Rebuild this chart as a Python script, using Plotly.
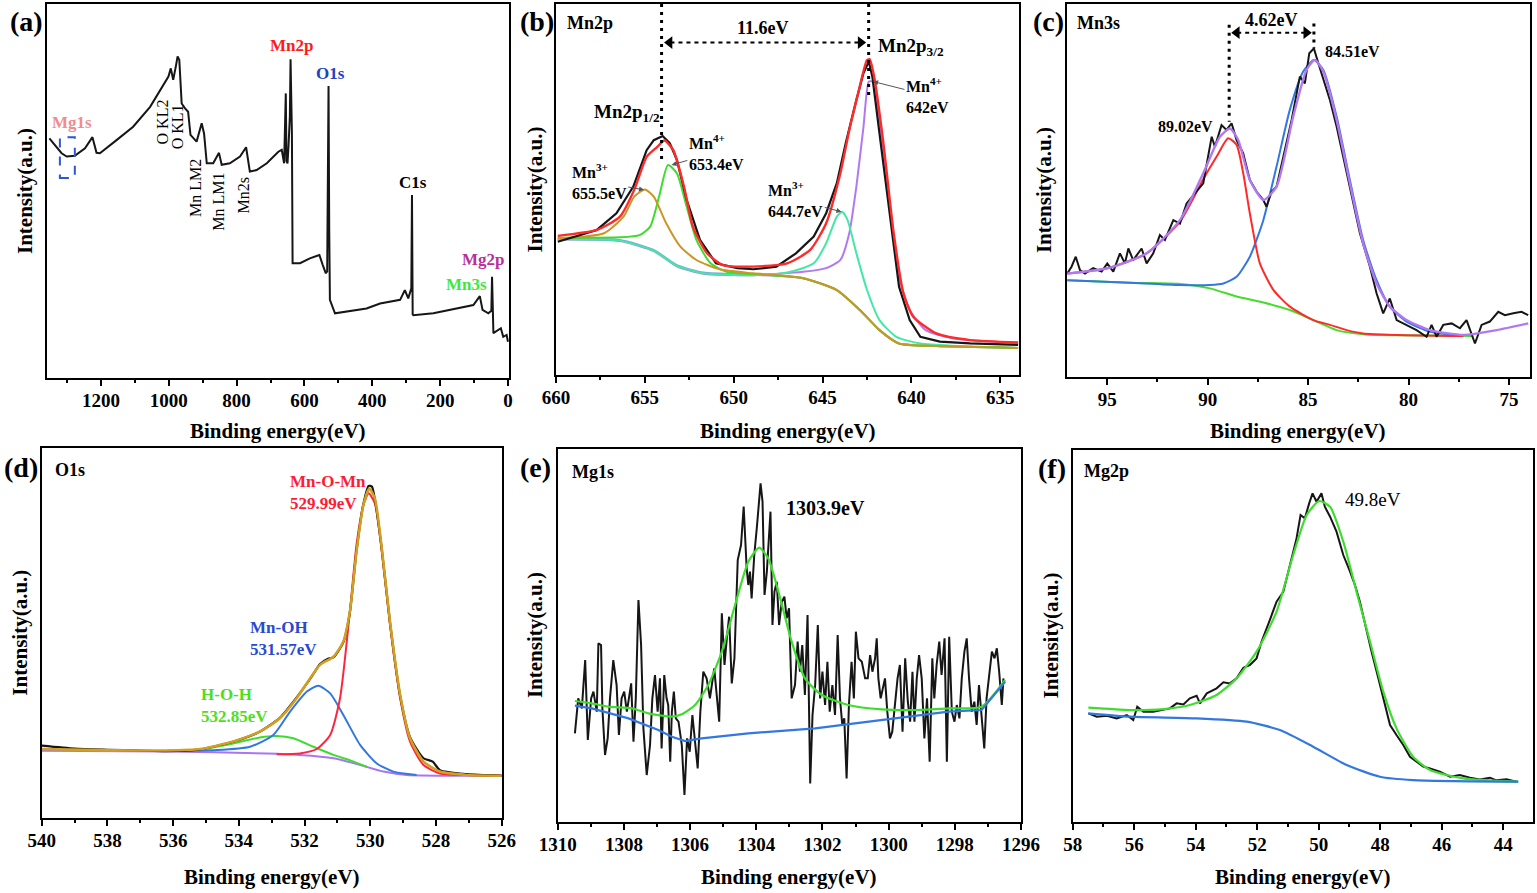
import plotly.graph_objects as go

W, H = 1537, 893
SERIF = "Liberation Serif"

# ---------------- (a) survey -----------------
survey = [(1352, 64.1), (1316, 60.1), (1301, 59.2), (1277, 59.4), (1247, 61.4), (1225, 64.4), (1213, 60.2),
          (1203, 60.1), (1154, 63.6), (1105, 67.2), (1055, 72.5), (1016, 78.3), (1001, 80.6), (994, 82.8),
          (987, 79.7), (979, 83.4), (974, 86.0), (969, 85.1), (962, 73.4), (952, 72.1), (943, 71.2),
          (936, 65.0), (918, 63.2), (903, 68.1), (896, 65.4), (888, 57.4), (869, 57.4), (852, 60.2),
          (844, 57.0), (820, 57.4), (790, 59.2), (772, 61.7), (761, 55.2), (741, 55.6), (711, 57.4),
          (677, 60.5), (667, 61.0), (660, 57.4), (657, 66.0), (655, 76.1), (653, 58.0), (650, 57.4),
          (647, 62.0), (645, 65.4), (643, 70.0), (641, 85.2), (639, 70.0), (637, 65.4), (635, 30.7),
          (613, 30.7), (584, 32.0), (556, 32.9), (546, 30.2), (537, 28.0), (533, 28.5), (530, 60.0),
          (529, 78.1), (527, 40.0), (525, 20.9), (510, 17.3), (417, 18.6), (377, 19.9), (318, 20.9),
          (304, 23.5), (294, 21.3), (285, 24.0), (283, 48.9), (281, 17.0), (279, 16.8), (220, 17.3),
          (102, 19.5), (83, 21.9), (75, 18.2), (58, 17.3), (49, 18.0), (47, 27.1), (45, 15.0), (43, 12.0),
          (21, 13.3), (14, 11.0), (4, 11.5), (0, 9.7)]

# ---------------- (b) Mn2p -----------------
mn2p_raw = [(659.9, 35.9), (657.7, 39.1), (656.6, 43.6), (655.65, 50.8), (654.9, 60.6), (654.5, 63.3),
            (654.0, 64.4), (653.6, 62.5), (653.2, 58.0), (652.65, 47.2), (651.9, 36.4), (651.0, 30.1),
            (649.8, 28.8), (648.9, 28.5), (647.6, 29.2), (646.5, 32.8), (645.5, 37.3), (644.8, 43.6),
            (644.2, 51.7), (643.7, 62.5), (643.1, 74.1), (642.7, 81.4), (642.4, 84.5), (642.2, 80.4),
            (641.8, 65.1), (641.2, 42.7), (640.7, 23.8), (640.1, 14.8), (639.5, 10.3), (638.4, 9.0),
            (636.7, 8.5), (634.0, 8.1)]
mn2p_env = [(659.9, 37.5), (657.7, 39.1), (656.4, 42.7), (655.6, 49.9), (654.9, 58.8), (654.3, 61.5),
            (653.9, 63.2), (653.4, 60.6), (652.8, 50.8), (652.3, 40.0), (651.5, 32.8), (650.6, 29.6),
            (648.9, 29.2), (647.0, 30.1), (645.7, 33.7), (644.8, 40.9), (644.0, 54.4), (643.5, 66.0),
            (643.0, 75.9), (642.5, 84.9), (642.35, 85.1), (642.1, 80.4), (641.6, 63.3), (641.0, 38.2),
            (640.45, 22.0), (639.9, 15.7), (638.6, 11.2), (636.7, 9.4), (634.0, 8.8)]
mn2p_bg = [(659.9, 36.8), (656.4, 36.4), (654.5, 33.7), (653.2, 29.6), (651.7, 27.6), (648.9, 27.0),
           (646.1, 26.1), (644.2, 22.9), (642.9, 17.5), (641.8, 12.1), (640.7, 8.5), (638.6, 7.8), (634.0, 7.3)]
mn3_655 = [(659.9, 36.8), (657.3, 38.2), (656.2, 42.7), (655.6, 48.1), (655.0, 50.0), (654.5, 48.1),
           (653.8, 40.9), (653.0, 34.6), (652.1, 31.0), (650.8, 28.5), (648.9, 27.4), (646.1, 26.1),
           (644.2, 22.9), (642.9, 17.5), (641.8, 12.1), (640.7, 8.5), (638.6, 7.8), (634.0, 7.3)]
mn4_653 = [(659.9, 37.0), (656.4, 37.1), (655.3, 37.7), (654.7, 40.0), (654.2, 48.1), (653.7, 56.6),
           (653.2, 54.4), (652.65, 45.4), (652.1, 36.4), (651.3, 30.1), (650.4, 27.8), (648.9, 27.2),
           (646.1, 26.1), (644.2, 22.9), (642.9, 17.5), (641.8, 12.1), (640.7, 8.5), (638.6, 7.8), (634.0, 7.3)]
mn3_644 = [(659.9, 36.6), (656.4, 36.2), (654.5, 33.5), (653.2, 29.4), (651.7, 27.4), (648.9, 26.9),
           (647.0, 27.6), (645.5, 30.1), (644.8, 35.5), (644.2, 42.7), (643.9, 44.0), (643.6, 41.8),
           (643.1, 32.8), (642.5, 22.9), (641.8, 14.8), (640.85, 10.3), (639.5, 8.5), (634.0, 7.3)]
mn4_642 = [(659.9, 36.5), (656.4, 36.1), (654.5, 33.4), (653.2, 29.3), (651.7, 27.3), (648.9, 26.9),
           (646.1, 27.8), (644.8, 28.8), (644.0, 31.0), (643.5, 38.2), (643.1, 50.8), (642.7, 66.9),
           (642.4, 79.1), (642.2, 79.1), (641.8, 68.7), (641.2, 45.4), (640.7, 26.5), (640.1, 17.5),
           (639.2, 12.1), (637.7, 9.9), (634.0, 8.6)]

# ---------------- (c) Mn3s -----------------
mn3s_raw = [(96.99, 27.7), (96.78, 29.5), (96.57, 32.2), (96.36, 28.6), (96.11, 27.7), (95.70, 29.1),
            (95.28, 28.2), (95.0, 30.4), (94.70, 28.2), (94.37, 33.1), (94.12, 30.4), (93.95, 34.4),
            (93.71, 31.3), (93.29, 34.4), (93.04, 30.4), (92.71, 33.1), (92.38, 38.0), (92.13, 36.7),
            (91.71, 42.0), (91.38, 41.1), (91.05, 46.5), (90.63, 49.2), (90.22, 51.9), (89.80, 64.4),
            (89.64, 61.7), (89.31, 67.5), (89.06, 66.2), (88.81, 68.0), (88.56, 63.5), (88.23, 59.9),
            (87.90, 52.8), (87.56, 49.6), (87.23, 47.4), (87.07, 45.6), (86.82, 49.6), (86.57, 51.0),
            (86.24, 59.0), (85.82, 68.9), (85.41, 80.5), (85.16, 78.7), (84.94, 86.8), (84.71, 88.1),
            (84.49, 84.1), (84.24, 79.6), (83.91, 74.2), (83.58, 67.1), (83.25, 59.0), (82.92, 51.0),
            (82.42, 38.5), (81.92, 29.5), (81.59, 22.4), (81.26, 17.0), (80.93, 21.0), (80.59, 15.2),
            (80.10, 13.9), (79.60, 12.5), (79.10, 10.7), (78.85, 13.9), (78.60, 10.7), (78.27, 13.9),
            (77.85, 14.3), (77.44, 13.0), (77.11, 15.2), (76.69, 8.9), (76.36, 13.9), (75.95, 14.8),
            (75.53, 17.4), (75.20, 16.5), (74.78, 17.0), (74.37, 17.4), (74.04, 16.5)]
mn3s_env = [(96.99, 27.7), (95.0, 29.1), (93.04, 33.1), (91.38, 42.0), (90.22, 54.6), (89.39, 64.4),
            (88.89, 66.6), (88.48, 63.5), (87.90, 52.8), (87.23, 47.4), (86.57, 51.0), (85.74, 69.8),
            (85.08, 82.3), (84.66, 85.0), (84.24, 81.8), (83.58, 68.9), (82.92, 51.9), (82.26, 35.8),
            (81.59, 25.0), (80.93, 18.8), (80.10, 15.2), (78.94, 12.5), (77.27, 11.2), (75.61, 12.5),
            (74.04, 14.3)]
mn3s_89 = [(96.99, 27.7), (95.0, 29.1), (93.04, 33.1), (91.38, 41.6), (90.22, 53.0), (89.56, 59.0),
           (88.98, 64.0), (88.56, 62.2), (88.23, 54.6), (87.90, 43.8), (87.40, 30.4), (86.73, 23.3),
           (85.91, 18.8), (84.74, 15.2), (83.91, 13.9), (83.08, 12.5), (82.26, 11.6), (80.59, 11.2),
           (77.27, 10.9)]
mn3s_84 = [(96.99, 25.9), (93.87, 25.2), (91.38, 24.6), (89.89, 24.6), (89.22, 25.0), (88.56, 26.8),
           (87.90, 32.2), (87.23, 42.0), (86.57, 56.4), (85.91, 71.6), (85.25, 81.8), (84.71, 85.0),
           (84.24, 82.3), (83.58, 69.8), (82.92, 52.8), (82.26, 36.7), (81.59, 25.9), (80.93, 18.8),
           (80.10, 14.8), (78.94, 12.1), (77.27, 10.9)]
mn3s_bg = [(96.99, 25.9), (93.87, 25.2), (91.38, 24.9), (89.89, 23.7), (88.56, 21.5), (87.23, 19.9),
           (85.91, 17.9), (84.74, 15.2), (83.58, 12.5), (82.26, 11.4), (80.59, 11.1), (76.77, 10.9)]

# ---------------- (d) O1s -----------------
o1s_raw = [(540.0, 19.6), (539.0, 18.8), (538.0, 18.5), (537.0, 18.3), (536.2, 18.1), (535.2, 18.6),
           (534.2, 20.6), (533.4, 23.2), (532.75, 27.1), (532.24, 32.6), (531.83, 37.6), (531.53, 41.6),
           (531.3, 43.0), (531.12, 43.4), (530.82, 47.5), (530.62, 55.6), (530.42, 72.1), (530.21, 84.8),
           (530.05, 89.7), (529.95, 89.5), (529.86, 86.0), (529.66, 73.4), (529.40, 52.8), (529.09, 33.0),
           (528.79, 21.9), (528.38, 16.2), (528.1, 15.3), (527.88, 13.0), (527.07, 11.9), (526.0, 11.5)]
o1s_env = [(540.0, 18.7), (538.22, 18.4), (536.20, 18.3), (535.18, 18.7), (534.17, 20.7), (533.36, 23.4),
           (532.75, 27.0), (532.24, 32.4), (531.83, 37.8), (531.53, 41.4), (531.12, 43.6), (530.82, 47.7),
           (530.62, 55.8), (530.42, 71.9), (530.21, 84.5), (530.03, 89.0), (529.86, 86.3), (529.66, 73.7),
           (529.40, 53.1), (529.09, 33.3), (528.79, 21.6), (528.38, 15.3), (527.88, 12.6), (527.07, 11.7),
           (526.0, 11.5)]
o1s_mnomn = [(532.85, 17.3), (532.14, 17.5), (531.63, 18.7), (531.22, 22.5), (530.92, 32.4), (530.62, 55.8),
             (530.42, 73.7), (530.21, 84.5), (530.05, 87.7), (529.86, 85.0), (529.66, 72.8), (529.40, 52.2),
             (529.09, 32.4), (528.79, 20.7), (528.38, 14.4), (527.88, 12.1), (527.07, 11.7), (526.0, 11.5)]
o1s_mnoh = [(536.20, 18.2), (534.67, 18.4), (533.66, 19.3), (532.95, 22.5), (532.44, 28.8), (531.93, 34.2),
            (531.58, 35.8), (531.22, 33.7), (530.82, 27.9), (530.31, 19.8), (529.80, 14.8), (529.30, 12.6),
            (528.59, 11.7)]
o1s_hoh = [(535.18, 18.4), (534.17, 20.2), (533.36, 21.8), (532.85, 22.2), (532.34, 21.6), (531.73, 19.3),
           (531.12, 17.1), (530.51, 15.3), (530.11, 13.9)]
o1s_bg = [(540.0, 18.2), (536.2, 18.0), (533.15, 17.5), (532.14, 17.1), (531.12, 16.2), (530.31, 14.4),
          (529.60, 12.6), (528.89, 11.7), (526.0, 11.5)]

# ---------------- (e) Mg1s -----------------
mg1s_raw = [(1309.48, 265), (1309.38, 370), (1309.27, 340), (1309.17, 485), (1309.09, 245), (1308.99, 370),
            (1308.92, 390), (1308.82, 330), (1308.77, 535), (1308.69, 530), (1308.65, 340), (1308.57, 200),
            (1308.49, 250), (1308.42, 370), (1308.32, 485), (1308.22, 410), (1308.15, 260), (1308.07, 370),
            (1307.99, 390), (1307.91, 330), (1307.84, 375), (1307.78, 415), (1307.71, 240), (1307.64, 370),
            (1307.56, 665), (1307.48, 530), (1307.41, 280), (1307.31, 140), (1307.21, 230), (1307.14, 370),
            (1307.06, 440), (1306.98, 330), (1306.91, 430), (1306.86, 220), (1306.78, 440), (1306.71, 370),
            (1306.66, 350), (1306.60, 180), (1306.55, 330), (1306.49, 390), (1306.43, 310), (1306.35, 300),
            (1306.25, 230), (1306.17, 80), (1306.09, 250), (1306.01, 210), (1305.93, 320), (1305.85, 230),
            (1305.77, 160), (1305.69, 330), (1305.60, 450), (1305.50, 430), (1305.40, 370), (1305.27, 460),
            (1305.12, 300), (1305.04, 625), (1304.96, 470), (1304.89, 550), (1304.82, 615), (1304.74, 415),
            (1304.66, 490), (1304.56, 785), (1304.46, 830), (1304.38, 945), (1304.29, 760), (1304.24, 710),
            (1304.19, 750), (1304.14, 670), (1304.06, 800), (1303.98, 885), (1303.87, 1015), (1303.81, 960),
            (1303.75, 680), (1303.68, 750), (1303.61, 880), (1303.57, 930), (1303.51, 590), (1303.45, 690),
            (1303.38, 720), (1303.31, 590), (1303.23, 660), (1303.15, 675), (1303.08, 610), (1303.01, 640),
            (1302.93, 370), (1302.83, 410), (1302.75, 540), (1302.68, 450), (1302.61, 530), (1302.53, 380),
            (1302.45, 620), (1302.37, 115), (1302.30, 320), (1302.22, 410), (1302.14, 590), (1302.07, 370),
            (1302.00, 450), (1301.92, 350), (1301.85, 480), (1301.78, 330), (1301.70, 410), (1301.62, 320),
            (1301.54, 560), (1301.47, 370), (1301.40, 290), (1301.34, 310), (1301.27, 130), (1301.20, 350),
            (1301.12, 480), (1301.05, 370), (1300.99, 570), (1300.91, 490), (1300.81, 480), (1300.71, 430),
            (1300.63, 430), (1300.56, 500), (1300.49, 450), (1300.41, 490), (1300.36, 550), (1300.31, 430),
            (1300.24, 370), (1300.18, 400), (1300.11, 430), (1300.04, 330), (1299.96, 250), (1299.89, 270),
            (1299.81, 350), (1299.73, 430), (1299.66, 470), (1299.58, 270), (1299.50, 490), (1299.42, 360),
            (1299.35, 300), (1299.28, 450), (1299.22, 300), (1299.15, 430), (1299.08, 500), (1299.00, 430),
            (1298.92, 250), (1298.84, 370), (1298.76, 180), (1298.68, 490), (1298.62, 370), (1298.55, 470),
            (1298.47, 540), (1298.40, 440), (1298.31, 550), (1298.24, 180), (1298.17, 555), (1298.09, 330),
            (1298.01, 300), (1297.94, 350), (1297.86, 310), (1297.79, 430), (1297.71, 510), (1297.64, 550),
            (1297.57, 430), (1297.49, 330), (1297.41, 360), (1297.34, 290), (1297.27, 410), (1297.19, 300),
            (1297.11, 220), (1297.04, 370), (1296.97, 440), (1296.88, 510), (1296.80, 490), (1296.73, 520),
            (1296.66, 450), (1296.58, 350), (1296.53, 430)]
mg1s_fit = [(1309.48, 362), (1308.97, 355), (1308.47, 345), (1307.76, 340), (1307.26, 325), (1306.55, 315),
            (1306.25, 322), (1305.85, 350), (1305.45, 410), (1305.04, 510), (1304.64, 650), (1304.24, 780),
            (1303.91, 822), (1303.64, 790), (1303.33, 690), (1302.93, 540), (1302.53, 430), (1302.02, 380),
            (1301.22, 350), (1300.21, 337), (1299.20, 335), (1298.19, 340), (1297.19, 345), (1296.48, 425)]
mg1s_bg = [(1309.48, 348), (1308.97, 340), (1307.86, 310), (1306.96, 275), (1306.55, 255), (1306.15, 242),
           (1305.65, 250), (1304.24, 265), (1302.22, 280), (1300.21, 305), (1298.19, 330), (1297.19, 335),
           (1296.48, 420)]

# ---------------- (f) Mg2p -----------------
mg2p_raw = [(57.49, 325), (57.22, 315), (56.89, 318), (56.57, 310), (56.24, 320), (56.03, 305), (55.90, 345),
            (55.70, 330), (55.38, 330), (55.05, 335), (54.84, 340), (54.62, 355), (54.40, 352), (54.19, 370),
            (53.97, 378), (53.86, 355), (53.64, 385), (53.32, 400), (53.10, 418), (52.89, 415), (52.67, 430),
            (52.45, 462), (52.24, 470), (52.02, 490), (51.86, 540), (51.59, 605), (51.37, 660), (51.15, 690),
            (50.94, 770), (50.72, 850), (50.59, 920), (50.45, 910), (50.31, 955), (50.20, 985), (50.07, 960),
            (49.91, 985), (49.80, 945), (49.63, 915), (49.42, 870), (49.20, 800), (48.98, 750), (48.82, 710),
            (48.66, 660), (48.44, 570), (48.28, 510), (48.06, 430), (47.85, 350), (47.68, 290), (47.47, 260),
            (47.25, 230), (47.03, 195), (46.82, 180), (46.60, 165), (46.38, 160), (46.06, 150), (45.73, 135),
            (45.41, 140), (45.08, 132), (44.76, 127), (44.43, 132), (44.22, 124), (43.89, 127), (43.57, 120)]
mg2p_fit = [(57.49, 342), (56.14, 335), (55.05, 338), (54.19, 350), (53.32, 380), (52.67, 430), (52.02, 510),
            (51.37, 630), (50.83, 800), (50.39, 920), (49.98, 962), (49.63, 945), (49.20, 840), (48.77, 690),
            (48.33, 540), (47.90, 390), (47.47, 280), (46.93, 195), (46.38, 155), (45.30, 130), (43.51, 120)]
mg2p_bg = [(57.49, 325), (56.14, 315), (53.97, 310), (52.34, 300), (51.26, 275), (50.18, 225), (49.09, 170),
           (48.01, 135), (46.93, 125), (43.51, 120)]

# splitting markers (peak positions used for the dashed guides)
mn2p_split = [654.06, 642.41]
mn3s_split = [88.93, 84.71]

BLACK = "#161616"
RED = "#FF2A2A"
PURPLE = "#B278F2"
TEAL = "#44E8A6"
GREEN = "#3EDC2E"
ORANGE = "#CC9524"
BLUE = "#3377E0"

fig = go.Figure()


def add(data, ax, color, width=2.0, spline=True):
    xs = [p[0] for p in data]
    ys = [p[1] for p in data]
    fig.add_trace(go.Scatter(x=xs, y=ys, mode="lines", xaxis="x" + ax, yaxis="y" + ax,
                             line=dict(color=color, width=width, shape="spline" if spline else "linear",
                                       smoothing=0.6),
                             showlegend=False, hoverinfo="skip"))


add(survey, "", BLACK, 2.0, spline=False)

add(mn2p_bg, "2", "#7FA6D8")
add(mn4_642, "2", PURPLE)
add(mn3_644, "2", TEAL)
add(mn4_653, "2", GREEN)
add(mn3_655, "2", ORANGE)
add(mn2p_raw, "2", BLACK, 2.2, spline=False)
add(mn2p_env, "2", RED, 2.4)

add(mn3s_bg, "3", "#46DC2E")
add(mn3s_84, "3", BLUE)
add(mn3s_89, "3", RED)
add(mn3s_raw, "3", BLACK, 2.0, spline=False)
add(mn3s_env, "3", PURPLE, 2.4)

add(o1s_bg, "4", "#A877F0")
add(o1s_hoh, "4", GREEN)
add(o1s_mnoh, "4", BLUE)
add(o1s_mnomn, "4", "#FF2440")
add(o1s_raw, "4", BLACK, 2.2)
add(o1s_env, "4", "#D29F22", 2.6)

add(mg1s_raw, "5", BLACK, 2.0, spline=False)
add(mg1s_fit, "5", GREEN, 2.2)
add(mg1s_bg, "5", BLUE, 2.2, spline=False)

add(mg2p_raw, "6", BLACK, 2.0, spline=False)
add(mg2p_fit, "6", GREEN, 2.2)
add(mg2p_bg, "6", BLUE, 2.2)


def double_arrow(ax, split, y, pad):
    # arrow heads as triangle markers at both ends of the dashed span
    fig.add_trace(go.Scatter(x=[split[0] - pad, split[1] + pad], y=[y, y], mode="markers",
                             xaxis="x" + ax, yaxis="y" + ax,
                             marker=dict(symbol=["triangle-left", "triangle-right"], size=11, color="black"),
                             showlegend=False, hoverinfo="skip"))


double_arrow("2", mn2p_split, 89.6, 0.45)
double_arrow("3", mn3s_split, 92.3, 0.38)

TICKFONT = dict(family=SERIF, size=19, color="black", weight="bold")

panels = {
    "": dict(dx=[47 / W, 509 / W], dy=[1 - 378 / H, 1 - 4 / H], xr=[1359, -3], yr=[0, 100], dt=200, mt=100),
    "2": dict(dx=[556 / W, 1019 / W], dy=[1 - 375 / H, 1 - 4 / H], xr=[660, 633.95], yr=[0, 100], dt=5, mt=2.5),
    "3": dict(dx=[1066.7 / W, 1530 / W], dy=[1 - 376.7 / H, 1 - 4 / H], xr=[97.02, 73.95], yr=[0, 100], dt=5, mt=2.5),
    "4": dict(dx=[41.7 / W, 501.7 / W], dy=[1 - 818.3 / H, 1 - 447.7 / H], xr=[540, 526], yr=[0, 100], dt=2, mt=1),
    "5": dict(dx=[557.7 / W, 1021 / W], dy=[1 - 821.7 / H, 1 - 449 / H], xr=[1310, 1296], yr=[0, 1118], dt=2, mt=1),
    "6": dict(dx=[1072.7 / W, 1532.7 / W], dy=[1 - 821.7 / H, 1 - 449.7 / H], xr=[58, 43.04], yr=[0, 1116], dt=2, mt=1),
}

layout_axes = {}
for k, p in panels.items():
    layout_axes["xaxis" + k] = dict(domain=p["dx"], anchor="y" + k, range=p["xr"], dtick=p["dt"], tick0=0,
                                    showline=True, mirror=True, linecolor="black", linewidth=2,
                                    ticks="outside", ticklen=6, tickwidth=2, tickcolor="black",
                                    minor=dict(dtick=p["mt"], tick0=0, ticks="outside", ticklen=3, tickwidth=2,
                                               tickcolor="black"),
                                    showgrid=False, zeroline=False, tickfont=TICKFONT, fixedrange=True,
                                    automargin=False, ticklabelstandoff=-2)
    layout_axes["yaxis" + k] = dict(domain=p["dy"], anchor="x" + k, range=p["yr"], showline=True, mirror=True,
                                    linecolor="black", linewidth=2, showticklabels=False, ticks="",
                                    showgrid=False, zeroline=False, fixedrange=True, automargin=False)

ann = []


def T(text, x, y, ref="", size=16, color="black", bold=True, xanchor="center", yanchor="middle", angle=0,
      align="center"):
    xr = "paper" if ref == "paper" else "x" + ref
    yr = "paper" if ref == "paper" else "y" + ref
    ann.append(dict(text=text, x=x, y=y, xref=xr, yref=yr, showarrow=False, xanchor=xanchor, yanchor=yanchor,
                    textangle=angle, align=align,
                    font=dict(family=SERIF, size=size, color=color, weight="bold" if bold else "normal")))


def TA(text, hx, hy, tx, ty, ref, size=16):
    # label whose thin pointer runs from the text box to the peak
    ann.append(dict(text=text, x=hx, y=hy, ax=tx, ay=ty, xref="x" + ref, yref="y" + ref, axref="x" + ref,
                    ayref="y" + ref, showarrow=True, arrowhead=2, arrowsize=1.0, arrowwidth=1,
                    arrowcolor="#555555", standoff=0, align="left",
                    font=dict(family=SERIF, size=size, color="black", weight="bold")))


def P(px, py):
    return px / W, 1 - py / H


# panel letters and sub titles
for lab, (px, py) in {"(a)": (26, 21), "(b)": (537, 22), "(c)": (1048, 22), "(d)": (21, 467),
                      "(e)": (535, 467), "(f)": (1052, 468)}.items():
    x, y = P(px, py)
    T(lab, x, y, "paper", size=28)
for lab, (px, py) in {"Mn2p": (590, 23), "Mn3s": (1098, 23), "O1s": (70, 470), "Mg1s": (593, 472),
                      "Mg2p": (1106, 471)}.items():
    x, y = P(px, py)
    T(lab, x, y, "paper", size=18)

# axis titles
for k, p in panels.items():
    cx = (p["dx"][0] + p["dx"][1]) / 2
    top_row = p["dy"][0] > 0.5
    T("Binding energy(eV)", cx, 1 - (431 if top_row else 877) / H, "paper", size=21)
    cy = (p["dy"][0] + p["dy"][1]) / 2
    T("Intensity(a.u.)", p["dx"][0] - 22 / W, cy, "paper", size=21, angle=-90)

# (a) labels
T("Mg1s", 1285, 68.4, "", 17, "#F28C8C")
T("Mn2p", 638, 88.8, "", 17, "#FF1A1A")
T("O1s", 522, 81.3, "", 17, "#2040C8")
T("C1s", 281, 52.2, "", 17)
T("Mg2p", 71, 31.6, "", 17, "#B8309A")
T("Mn3s", 122, 25.1, "", 17, "#3EE83E")
for txt, x, y in [("O KL2", 1018, 68.5), ("O KL1", 974, 67.2), ("Mn LM2", 923, 50.8), ("Mn LM1", 852, 47.1),
                  ("Mn2s", 780, 48.9)]:
    T(txt, x, y, "", 16, bold=False, angle=-90)

shapes = [dict(type="rect", xref="x", yref="y", x0=1321, x1=1277, y0=53.5, y1=64.4,
               line=dict(color="#2F55D4", width=2, dash="dash"))]

# (b) annotations
shapes.append(dict(type="line", xref="x2", yref="y2", x0=mn2p_split[0], x1=mn2p_split[0], y0=100, y1=57,
                   line=dict(color="black", width=3, dash="3px,5px")))
shapes.append(dict(type="line", xref="x2", yref="y2", x0=mn2p_split[1], x1=mn2p_split[1], y0=100, y1=75,
                   line=dict(color="black", width=3, dash="3px,5px")))
shapes.append(dict(type="line", xref="x2", yref="y2", x0=mn2p_split[0] - 0.5, x1=mn2p_split[1] + 0.5,
                   y0=89.6, y1=89.6, line=dict(color="black", width=2, dash="4px,4px")))
T("11.6eV", 648.38, 93.4, "2", 18)
T("Mn2p<sub>3/2</sub>", 641.97, 88.5, "2", 19, xanchor="left")
T("Mn2p<sub>1/2</sub>", 656.03, 70.5, "2", 19)
TA("Mn<sup>4+</sup><br>642eV", 642.16, 79.1, 639.1, 75.4, "2")
TA("Mn<sup>4+</sup><br>653.4eV", 653.50, 56.6, 650.98, 60.1, "2")
TA("Mn<sup>3+</sup><br>655.5eV", 655.05, 49.9, 657.57, 52.1, "2")
TA("Mn<sup>3+</sup><br>644.7eV", 643.94, 44.0, 646.51, 47.2, "2")

# (c) annotations
shapes.append(dict(type="line", xref="x3", yref="y3", x0=mn3s_split[0], x1=mn3s_split[0], y0=94.4, y1=68.4,
                   line=dict(color="black", width=3, dash="3px,5px")))
shapes.append(dict(type="line", xref="x3", yref="y3", x0=mn3s_split[1], x1=mn3s_split[1], y0=94.8, y1=88.1,
                   line=dict(color="black", width=3, dash="3px,5px")))
shapes.append(dict(type="line", xref="x3", yref="y3", x0=mn3s_split[0] - 0.4, x1=mn3s_split[1] + 0.4,
                   y0=92.3, y1=92.3, line=dict(color="black", width=2, dash="4px,4px")))
T("4.62eV", 86.82, 95.7, "3", 18)
T("84.51eV", 84.24, 87.2, "3", 16, xanchor="left")
T("89.02eV", 89.64, 67.1, "3", 16, xanchor="right")

# (d) annotations
T("Mn-O-Mn<br>529.99eV", 532.49, 87.9, "4", 17, "#FF1A33", xanchor="left", align="left")
T("Mn-OH<br>531.57eV", 533.71, 48.5, "4", 17, "#2B48D0", xanchor="left", align="left")
T("H-O-H<br>532.85eV", 535.2, 30.4, "4", 17, "#4CE01C", xanchor="left", align="left")

# (e), (f) annotations
T("1303.9eV", 1301.92, 940, "5", 20)
T("49.8eV", 48.23, 968, "6", 19, bold=False)

fig.update_layout(width=W, height=H, margin=dict(l=0, r=0, t=0, b=0, autoexpand=False), paper_bgcolor="white",
                  plot_bgcolor="white", annotations=ann, shapes=shapes, showlegend=False, **layout_axes)

fig.write_html("out.html", config={"displayModeBar": False, "staticPlot": True},
               post_script="document.body.style.margin='0';document.body.style.overflow='hidden';")
